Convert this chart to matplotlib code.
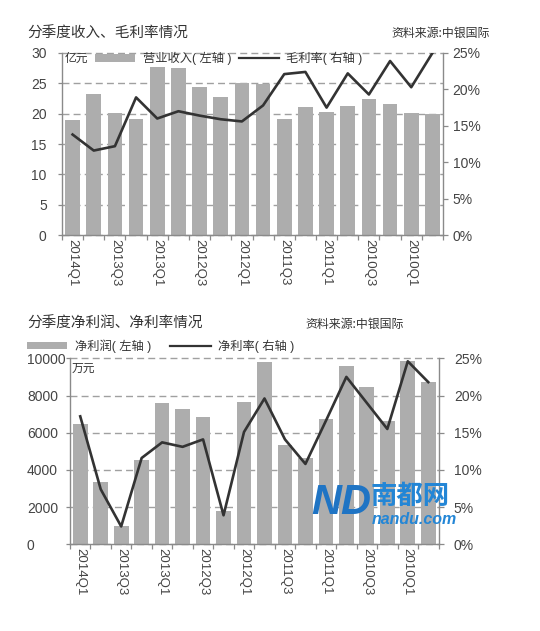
import matplotlib
matplotlib.use("Agg")
import matplotlib.pyplot as plt
import numpy as np
from matplotlib.patches import Patch
from matplotlib.lines import Line2D

plt.rcParams['font.family'] = ['Liberation Sans', 'Noto Sans CJK SC', 'DejaVu Sans']

# ---------------- data ----------------
quarters = ['2014Q1', '2013Q4', '2013Q3', '2013Q2', '2013Q1', '2012Q4', '2012Q3', '2012Q2',
            '2012Q1', '2011Q4', '2011Q3', '2011Q2', '2011Q1', '2010Q4', '2010Q3', '2010Q2',
            '2010Q1', '2009Q4']
revenue = [18.9, 23.3, 20.1, 19.2, 27.7, 27.6, 24.4, 22.7, 25.1, 24.9, 19.1, 21.1,
           20.3, 21.3, 22.4, 21.6, 20.1, 20.0]           # 亿元
gross_margin = [13.8, 11.6, 12.2, 18.9, 16.0, 17.0, 16.4, 15.9, 15.6, 17.8, 22.1, 22.4,
                17.5, 22.2, 19.3, 23.9, 20.3, 25.0]     # %
net_profit = [6450, 3350, 970, 4520, 7580, 7260, 6860, 1810, 7670, 9780, 5340, 4620,
              6740, 9600, 8440, 6650, 9850, 8740]       # 万元
net_margin = [17.2, 7.4, 2.4, 11.6, 13.7, 13.1, 14.1, 3.9, 15.1, 19.6, 14.1, 10.8,
              16.6, 22.5, 19.0, 15.5, 24.6, 21.8]       # %

rev_ticks = [0, 5, 10, 15, 20, 25, 30]
np_ticks = [0, 2000, 4000, 6000, 8000, 10000]
pct_ticks = [0, 5, 10, 15, 20, 25]
tick_labels = quarters[::2]

# ---------------- style ----------------
W, H = 540, 631
BAR = '#adadad'
LINE = '#333333'
SPINE = '#8a8a8a'
GRID = '#a0a0a0'
TXT = '#444444'
TITLE = '#333333'

fig = plt.figure(figsize=(W / 100, H / 100), dpi=100)


def px_axes(l, t, r, b):
    return fig.add_axes([l / W, 1 - b / H, (r - l) / W, (b - t) / H])


def ftext(x, y, s, **kw):
    return fig.text(x / W, 1 - y / H, s, **kw)


def style_pair(ax, ax2, lticks, lmax, left_align=False):
    n = len(quarters)
    x = np.arange(n)
    ax.set_xlim(-0.5, n - 0.5)
    ax.set_ylim(0, lmax)
    ax2.set_ylim(0, 25)
    ax.set_yticks(lticks)
    ax.set_yticklabels([str(v) for v in lticks])
    ax2.set_yticks(pct_ticks)
    ax2.set_yticklabels([f'{v}%' for v in pct_ticks])
    # boundary ticks (major) and labelled centre ticks (minor)
    ax.set_xticks(np.arange(-0.5, n, 1.0))
    ax.set_xticklabels([])
    ax.set_xticks(x[::2], minor=True)
    ax.set_xticklabels(tick_labels, minor=True, rotation=-90, fontsize=9.5, color=TXT,
                       va='top', ha='center')
    ax.tick_params(axis='x', which='major', length=3.5, width=0.9, color=SPINE, direction='out')
    ax.tick_params(axis='x', which='minor', length=0, pad=3)
    ax.tick_params(axis='y', length=3, width=0.9, color=SPINE, labelsize=10, labelcolor=TXT)
    ax2.tick_params(axis='y', length=3.5, width=0.9, color=SPINE, labelsize=10,
                    labelcolor=TXT, pad=3.5)
    for a in (ax, ax2):
        a.spines['top'].set_visible(False)
        for s in ('left', 'right', 'bottom'):
            a.spines[s].set_color(SPINE)
            a.spines[s].set_linewidth(1.0)
    ax2.spines['left'].set_visible(False)
    ax2.spines['bottom'].set_visible(False)
    ax.spines['right'].set_visible(False)
    ax.set_axisbelow(True)
    ax.yaxis.grid(True, color=GRID, linestyle=(0, (5, 3)), linewidth=1.0)
    for gl in ax.yaxis.get_gridlines():
        gl.set_clip_on(False)
    if left_align:
        ax.tick_params(axis='y', pad=28)
        for lab in ax.get_yticklabels():
            lab.set_horizontalalignment('left')
    else:
        ax.tick_params(axis='y', pad=8)


# ---------------- top chart ----------------
ax1 = px_axes(62, 53, 443, 235)
ax1b = ax1.twinx()
x = np.arange(len(quarters))
bars1 = ax1.bar(x, revenue, width=0.7, color=BAR, zorder=2)
line1, = ax1b.plot(x, gross_margin, color=LINE, linewidth=1.9, zorder=3)
style_pair(ax1, ax1b, rev_ticks, 30)

ftext(27, 34, '分季度收入、毛利率情况', fontsize=10.5, color=TITLE, va='center',
      family=['Noto Sans CJK SC'])
ftext(490, 33, '资料来源:中银国际', fontsize=8.6, color=TITLE, va='center', ha='right',
      family=['Noto Sans CJK SC'])
ftext(65, 58, '亿元', fontsize=8.5, color=TITLE, va='center', family=['Noto Sans CJK SC'])
fig.legend([Patch(facecolor=BAR, edgecolor='none'), Line2D([], [], color=LINE, linewidth=1.6)],
           ['营业收入( 左轴 )', '毛利率( 右轴 )'],
           loc='center left', bbox_to_anchor=(95 / W, 1 - 58.5 / H), ncol=2, frameon=False,
           fontsize=8.8, handlelength=3.3, handleheight=0.6, handletextpad=0.6,
           columnspacing=0.6, borderpad=0, borderaxespad=0, labelcolor=TITLE)

# ---------------- bottom chart ----------------
ax2 = px_axes(70, 358.3, 438.5, 544.3)
ax2b = ax2.twinx()
bars2 = ax2.bar(x, net_profit, width=0.72, color=BAR, zorder=2)
line2, = ax2b.plot(x, net_margin, color=LINE, linewidth=1.9, zorder=3)
style_pair(ax2, ax2b, np_ticks, 10000, left_align=True)
ax2b.tick_params(axis='y', pad=7.5)

ftext(27, 324, '分季度净利润、净利率情况', fontsize=10.5, color=TITLE, va='center',
      family=['Noto Sans CJK SC'])
ftext(305, 324, '资料来源:中银国际', fontsize=8.6, color=TITLE, va='center', ha='left',
      family=['Noto Sans CJK SC'])
ftext(72, 368, '万元', fontsize=8.5, color=TITLE, va='center', family=['Noto Sans CJK SC'])
fig.legend([Patch(facecolor=BAR, edgecolor='none'), Line2D([], [], color=LINE, linewidth=1.6)],
           ['净利润( 左轴 )', '净利率( 右轴 )'],
           loc='center left', bbox_to_anchor=(27 / W, 1 - 346 / H), ncol=2, frameon=False,
           fontsize=8.8, handlelength=3.3, handleheight=0.6, handletextpad=0.6,
           columnspacing=1.6, borderpad=0, borderaxespad=0, labelcolor=TITLE)

# ---------------- watermark ----------------
ftext(311, 503, 'ND', fontsize=30, fontweight='bold', fontstyle='italic', color='#1f74c4',
      va='center', ha='left', zorder=10)
ftext(371, 496, '南都网', fontsize=19, fontweight='bold', color='#2386d6', va='center',
      ha='left', family=['Noto Sans CJK SC'], zorder=10)
ftext(372, 519, 'nandu.com', fontsize=11.5, fontweight='bold', fontstyle='italic',
      color='#2386d6', va='center', ha='left', zorder=10)

fig.savefig('out.png', dpi=100)
